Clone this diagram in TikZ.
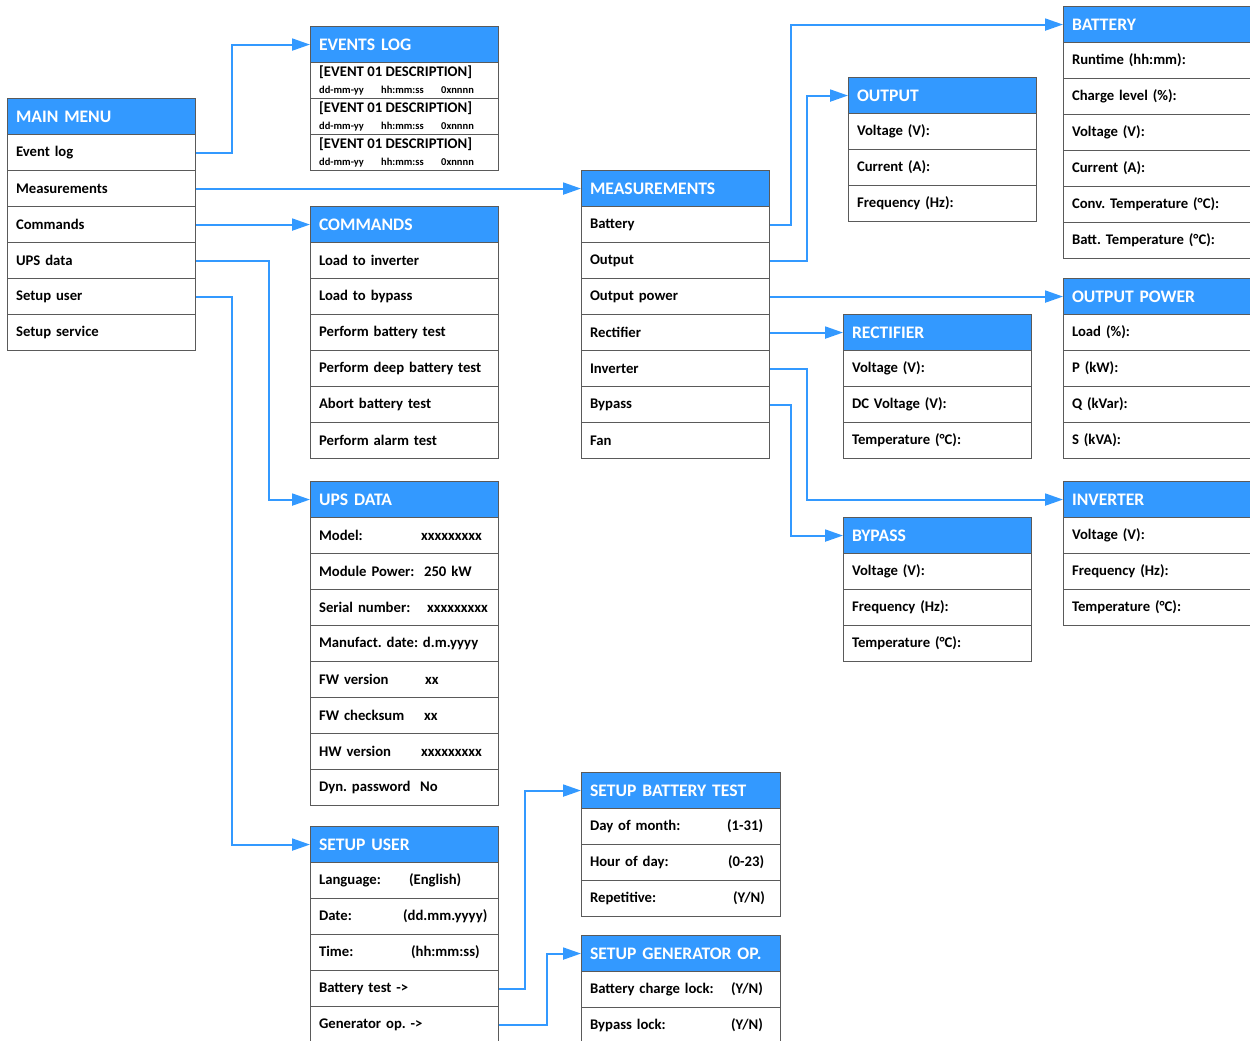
\documentclass[tikz,border=0pt]{standalone}
\usepackage{fontspec}
\setmainfont{Carlito}
\usetikzlibrary{arrows.meta}
\frenchspacing

\definecolor{hdrblue}{HTML}{3399FF}
\definecolor{wireblue}{HTML}{3399FF}
\definecolor{boxline}{HTML}{5A5A5A}

\tikzset{
  hdr/.style={draw=boxline, line width=1.1pt, fill=hdrblue, text=white,
    anchor=north west, minimum height=36pt, inner xsep=8.5pt, inner ysep=0pt,
    align=left, font=\fontsize{17.6}{20}\selectfont\bfseries},
  row/.style={draw=boxline, line width=1.1pt, fill=white,
    anchor=north west, minimum height=36pt, inner xsep=8.5pt, inner ysep=0pt,
    align=left, font=\fontsize{14.7}{17}\selectfont\bfseries},
  evbig/.style={anchor=west, inner sep=0pt, font=\fontsize{14.7}{17}\selectfont\bfseries},
  evsmall/.style={anchor=west, inner sep=0pt, font=\fontsize{10.5}{12}\selectfont\bfseries},
  wire/.style={draw=wireblue, line width=2pt, -{Triangle[length=18pt,width=12pt]}},
}

% menu box: name, left x, top y, width, title, list of rows
\newcommand\menubox[6]{%
  \pgfmathsetmacro\mbtw{#4-17}%
  \node[hdr, minimum width=#4pt, text width=\mbtw pt] (#1) at (#2,#3) {#5};
  \foreach \mbitem [count=\mbi] in {#6}{%
    \node[row, minimum width=#4pt, text width=\mbtw pt] (#1-\mbi) at (#2,#3+36*\mbi) {\mbitem};
  }%
}

\begin{document}
\begin{tikzpicture}[x=1pt,y=-1pt]
\path[use as bounding box] (0,0) rectangle (1250,1041);
\clip (0,0) rectangle (1250,1041);

% main menu
\menubox{mm}{7}{98}{188}{MAIN MENU}{Event log,Measurements,Commands,UPS data,Setup user,Setup service}

% event log with three two-line entries
\menubox{ev}{310}{26}{188}{EVENTS LOG}{{},{},{}}
\foreach \k in {1,2,3}{
  \node[evbig] (evt-\k) at (319,62+36*\k-36+10) {[EVENT 01 DESCRIPTION]};
  \node[evsmall] (evd-\k) at (319,62+36*\k-36+28.5)
    {\makebox[62pt][l]{dd-mm-yy}\makebox[60pt][l]{hh:mm:ss}0xnnnn};
}

% commands
\menubox{cmd}{310}{206}{188}{COMMANDS}{Load to inverter,Load to bypass,Perform battery test,Perform deep battery test,Abort battery test,Perform alarm test}

% UPS data
\menubox{ups}{310}{481}{188}{UPS DATA}{%
  {\makebox[102pt][l]{Model:}xxxxxxxxx},
  {\makebox[105pt][l]{Module Power:}250 kW},
  {\makebox[108pt][l]{Serial number:}xxxxxxxxx},
  {Manufact. date: d.m.yyyy},
  {\makebox[106pt][l]{FW version}xx},
  {\makebox[105pt][l]{FW checksum}xx},
  {\makebox[102pt][l]{HW version}xxxxxxxxx},
  {\makebox[101pt][l]{Dyn. password}No}}

% setup user
\menubox{su}{310}{826}{188}{SETUP USER}{%
  {\makebox[90pt][l]{Language:}(English)},
  {\makebox[84pt][l]{Date:}(dd.mm.yyyy)},
  {\makebox[92pt][l]{Time:}(hh:mm:ss)},
  {Battery test ->},
  {Generator op. ->}}

% measurements
\menubox{meas}{581}{170}{188}{MEASUREMENTS}{Battery,Output,Output power,Rectifier,Inverter,Bypass,Fan}

% setup battery test / generator
\menubox{sbt}{581}{772}{199}{SETUP BATTERY TEST}{%
  {\makebox[137pt][l]{Day of month:}(1-31)},
  {\makebox[138pt][l]{Hour of day:}(0-23)},
  {\makebox[143pt][l]{Repetitive:}(Y/N)}}
\menubox{sgo}{581}{935}{199}{SETUP GENERATOR OP.}{%
  {\makebox[141pt][l]{Battery charge lock:}(Y/N)},
  {\makebox[141pt][l]{Bypass lock:}(Y/N)}}

% measurement detail pages
\menubox{out}{848}{77}{188}{OUTPUT}{Voltage (V):,Current (A):,Frequency (Hz):}
\menubox{rect}{843}{314}{188}{RECTIFIER}{Voltage (V):,DC Voltage (V):,Temperature (°C):}
\menubox{byp}{843}{517}{188}{BYPASS}{Voltage (V):,Frequency (Hz):,Temperature (°C):}
\menubox{bat}{1063}{6}{188}{BATTERY}{Runtime (hh:mm):,Charge level (\%):,Voltage (V):,Current (A):,Conv. Temperature (°C):,Batt. Temperature (°C):}
\menubox{opw}{1063}{278}{188}{OUTPUT POWER}{Load (\%):,P (kW):,Q (kVar):,S (kVA):}
\menubox{inv}{1063}{481}{188}{INVERTER}{Voltage (V):,Frequency (Hz):,Temperature (°C):}

% connectors
\draw[wire] (mm-1.east) -- ++(36,0) |- (ev.west);
\draw[wire] (mm-2.east) -- (meas.west);
\draw[wire] (mm-3.east) -- (cmd.west);
\draw[wire] (mm-4.east) -- ++(73,0) |- (ups.west);
\draw[wire] (mm-5.east) -- ++(36,0) |- (su.west);

\draw[wire] (meas-1.east) -- ++(21,0) |- (bat.west);
\draw[wire] (meas-2.east) -- ++(37,0) |- (out.west);
\draw[wire] (meas-3.east) -- (opw.west);
\draw[wire] (meas-4.east) -- (rect.west);
\draw[wire] (meas-5.east) -- ++(37,0) |- (inv.west);
\draw[wire] (meas-6.east) -- ++(21,0) |- (byp.west);

\draw[wire] (su-4.east) -- ++(26,0) |- (sbt.west);
\draw[wire] (su-5.east) -- ++(48,0) |- (sgo.west);
\end{tikzpicture}
\end{document}
